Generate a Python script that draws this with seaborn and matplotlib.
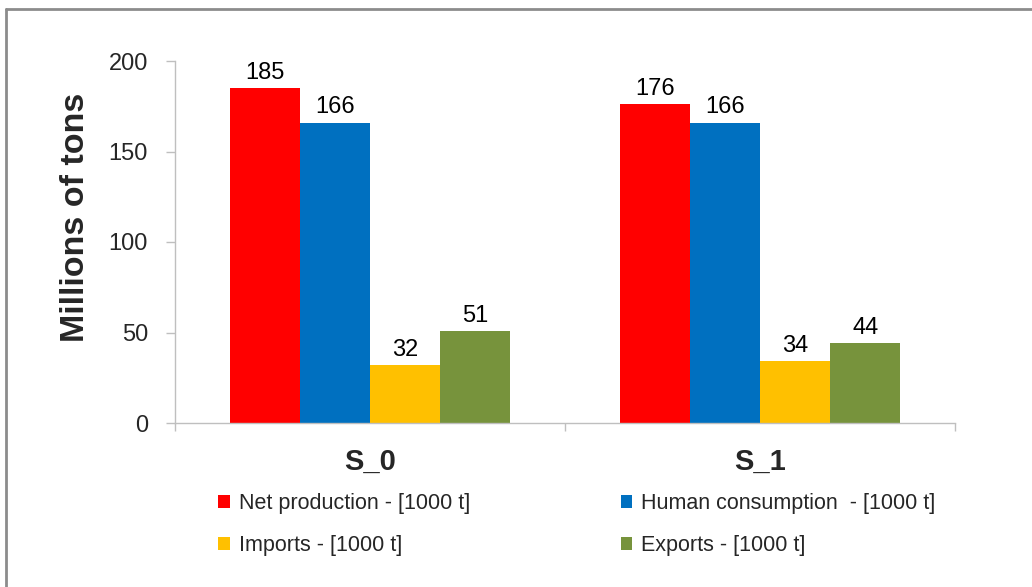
import matplotlib
matplotlib.use("Agg")
import matplotlib.pyplot as plt
import seaborn as sns
import pandas as pd
from matplotlib.lines import Line2D
from matplotlib.patches import Patch

scenarios = ["S_0", "S_1"]
series = ["Net production - [1000 t]", "Human consumption  - [1000 t]",
          "Imports - [1000 t]", "Exports - [1000 t]"]
net_production = [185, 176]
human_consumption = [166, 166]
imports = [32, 34]
exports = [51, 44]
colors = ["#FF0000", "#0070C0", "#FFC000", "#77933C"]
y_ticks = [0, 50, 100, 150, 200]

rows = []
for vals, name in zip([net_production, human_consumption, imports, exports], series):
    for sc, v in zip(scenarios, vals):
        rows.append({"scenario": sc, "series": name, "value": v})
df = pd.DataFrame(rows)

sns.set_theme(style="white")
plt.rcParams["font.family"] = ["Liberation Sans", "DejaVu Sans"]

fig = plt.figure(figsize=(10.32, 5.87), dpi=100)
ax = fig.add_axes([175/1032, 1-423/587, 780/1032, 362/587])

sns.barplot(data=df, x="scenario", y="value", hue="series", hue_order=series,
            palette=colors, saturation=1, width=0.72, gap=0, ax=ax, legend=False,
            linewidth=0)

for cont in ax.containers:
    ax.bar_label(cont, fmt="%d", padding=3, fontsize=17, color="#000000")

ax.set_xlim(-0.5, 1.5)
ax.set_ylim(0, 200)
ax.set_yticks(y_ticks)
ax.set_yticklabels([str(t) for t in y_ticks], fontsize=17)
ax.tick_params(axis="y", direction="out", length=6.5, width=1, color="#BFBFBF",
               pad=13, left=True)
ax.set_xticks([0, 1])
ax.set_xticklabels(scenarios, fontsize=21, fontweight="bold")
ax.tick_params(axis="x", which="major", length=0, pad=18)
ax.set_xticks([-0.5, 0.5, 1.5], minor=True)
ax.tick_params(axis="x", which="minor", direction="out", length=6, width=1,
               color="#BFBFBF", bottom=True)
ax.set_xlabel("")
ax.set_ylabel("")
for side in ["top", "right"]:
    ax.spines[side].set_visible(False)
for side in ["left", "bottom"]:
    ax.spines[side].set_color("#BFBFBF")
    ax.spines[side].set_linewidth(1)
ax.grid(False)

fig.text(75/1032, 1-217/587, "Millions of tons", rotation=90, ha="center",
         va="center", fontsize=24.5, fontweight="bold")

# legend: column-major order
order = [0, 2, 1, 3]
handles = [Patch(facecolor=colors[i], edgecolor="none") for i in order]
labels = [series[i] for i in order]
leg = fig.legend(handles, labels, ncol=2, loc="upper left",
                 bbox_to_anchor=(201/1032, 1-476/587), frameon=False,
                 fontsize=15.5, handlelength=0.55, handleheight=0.55,
                 handletextpad=0.4, columnspacing=7.0, labelspacing=0.95,
                 borderpad=0.3)

# outer frame lines (top and left)
fig.add_artist(Line2D([6/1032, 6/1032], [0, 1-9/587], transform=fig.transFigure,
                      color="#8C8C8C", lw=2))
fig.add_artist(Line2D([6/1032, 1], [1-9/587, 1-9/587], transform=fig.transFigure,
                      color="#8C8C8C", lw=2))

fig.savefig("out.png", dpi=100)
